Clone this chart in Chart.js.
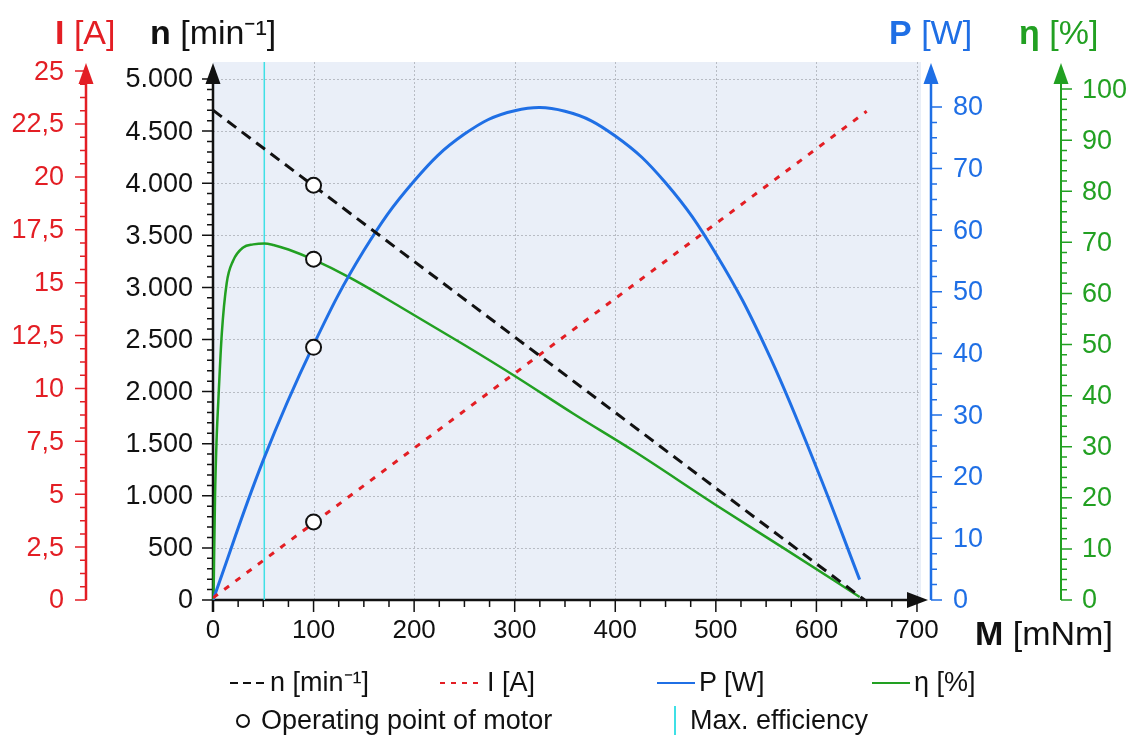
<!DOCTYPE html>
<html>
<head>
<meta charset="utf-8">
<script src="https://cdn.jsdelivr.net/npm/chart.js@4.4.1/dist/chart.umd.min.js"></script>
<style>
  body { margin: 0; background: #fff; font-family: "Liberation Sans", Arial, sans-serif; }
  #wrap { position: relative; width: 1128px; height: 735px; overflow: hidden; }
  #chart { position: absolute; left: 0; top: 0; }
  .t { position: absolute; font-size: 34px; line-height: 1; white-space: nowrap; }
  .lg { position: absolute; font-size: 27px; line-height: 1; white-space: nowrap; display: flex; align-items: center; color: #111; }
  .lg svg { margin-right: 4px; }
</style>
</head>
<body>
<div id="wrap">
  <canvas id="chart" width="1128" height="735"></canvas>

  <div class="t" style="left:55px;top:15px;color:#e31e24"><b>I</b> [A]</div>
  <div class="t" style="left:150px;top:15px;color:#111"><b>n</b> [min⁻¹]</div>
  <div class="t" style="left:889px;top:15px;color:#1f6fe5"><b>P</b> [W]</div>
  <div class="t" style="left:1019px;top:15px;color:#22a022"><b>η</b> [%]</div>
  <div class="t" style="left:975px;top:616px;color:#111"><b>M</b> [mNm]</div>

  <div class="lg" style="left:230px;top:669px"><svg width="36" height="6"><line x1="0" y1="3" x2="36" y2="3" stroke="#111" stroke-width="2" stroke-dasharray="8,5"/></svg>n [min⁻¹]</div>
  <div class="lg" style="left:440px;top:669px"><svg width="43" height="6"><line x1="0" y1="3" x2="43" y2="3" stroke="#e31e24" stroke-width="2" stroke-dasharray="5,6"/></svg>I [A]</div>
  <div class="lg" style="left:657px;top:669px"><svg width="38" height="6"><line x1="0" y1="3" x2="38" y2="3" stroke="#1f6fe5" stroke-width="2"/></svg>P [W]</div>
  <div class="lg" style="left:872px;top:669px"><svg width="38" height="6"><line x1="0" y1="3" x2="38" y2="3" stroke="#22a022" stroke-width="2"/></svg>η [%]</div>
  <div class="lg" style="left:235px;top:707px"><svg width="16" height="16" style="margin-right:10px"><circle cx="8" cy="8" r="6" fill="#fff" stroke="#111" stroke-width="2"/></svg>Operating point of motor</div>
  <div style="position:absolute;left:674px;top:706px;width:2px;height:29px;background:#3fe0e6"></div>
  <div class="lg" style="left:690px;top:707px">Max. efficiency</div>
</div>

<script>
// Kennlinien
const speedM = [0, 648];
const speedN = [4700, 0];

const currentM = [0, 650];
const currentI = [0.1, 23.1];

const powerM = [0, 50, 100, 150, 200, 250, 300, 350, 400, 450, 500, 550, 600, 643];
const powerP = [0, 22.7, 41.4, 56.7, 68.0, 75.6, 79.4, 79.3, 75.3, 67.7, 56.2, 40.8, 21.5, 3.3];

const effM = [0.5, 2, 3.5, 5.3, 8.7, 13.6, 20, 30, 40, 51, 60, 75, 100, 137, 186, 250, 302, 358, 418, 500, 567, 643];
const effE = [0, 20, 31, 39, 52, 62, 66.4, 69, 69.6, 69.8, 69.5, 68.6, 66.6, 63, 57.4, 49.9, 43.6, 36.5, 29.2, 18.6, 10.2, 0.6];

// Betriebspunkt + max. Wirkungsgrad
const opM = 100;
const opN = 3980;
const opI = 3.69;
const opP = 41;
const opE = 66.7;
const maxEffM = 51;

// tick labels
const xTicks = [0, 100, 200, 300, 400, 500, 600, 700];
const nTicks = [0, 500, 1000, 1500, 2000, 2500, 3000, 3500, 4000, 4500, 5000];
const iTicks = [0, 2.5, 5, 7.5, 10, 12.5, 15, 17.5, 20, 22.5, 25];
const pTicks = [0, 10, 20, 30, 40, 50, 60, 70, 80];
const eTicks = [0, 10, 20, 30, 40, 50, 60, 70, 80, 90, 100];

// axis ranges (top of plot area is a bit above the last tick)
const xMax = 704;
const nMax = 5163;
const iMax = 25.43;
const pMax = 87.3;
const eMax = 105.3;

const RED = '#e31e24', BLUE = '#1f6fe5', GREEN = '#22a022', CYAN = '#3fe0e6', BLACK = '#111';
const FONT = '"Liberation Sans", Arial, sans-serif';

const nFmt = v => v >= 1000 ? Math.floor(v / 1000) + '.' + String(v % 1000).padStart(3, '0') : String(v);
const iFmt = v => String(v).replace('.', ',');

const xy = (xs, ys) => xs.map((x, i) => ({ x: x, y: ys[i] }));

const marker = (axis, y) => ({
    data: [{ x: opM, y: y }],
    yAxisID: axis,
    showLine: false,
    pointRadius: 7.5,
    pointBackgroundColor: '#fff',
    pointBorderColor: BLACK,
    pointBorderWidth: 2
});

// 🔹 Achsen, Gitter, Pfeile
const axesPlugin = {
    id: 'motorAxes',
    beforeDatasetsDraw(chart) {
        const { ctx, chartArea: a, scales } = chart;
        ctx.save();
        ctx.fillStyle = '#eaeff8';
        ctx.fillRect(a.left, a.top, a.right - a.left, a.bottom - a.top);

        ctx.strokeStyle = '#b8bcc4';
        ctx.lineWidth = 1;
        ctx.setLineDash([2, 2]);
        ctx.beginPath();
        xTicks.forEach(v => {
            if (v === 0) return;
            const x = Math.round(scales.x.getPixelForValue(v)) + 0.5;
            ctx.moveTo(x, a.top); ctx.lineTo(x, a.bottom);
        });
        nTicks.forEach(v => {
            if (v === 0) return;
            const y = Math.round(scales.yN.getPixelForValue(v)) + 0.5;
            ctx.moveTo(a.left, y); ctx.lineTo(a.right, y);
        });
        ctx.stroke();
        ctx.setLineDash([]);

        const vAxes = [
            { id: 'yI', x: 86, color: RED, side: -1, ticks: iTicks, minor: 0.625, fmt: iFmt, lx: 64, align: 'right', w: 2.5 },
            { id: 'yN', x: 213, color: BLACK, side: -1, ticks: nTicks, minor: 100, fmt: nFmt, lx: 193, align: 'right', w: 2.5 },
            { id: 'yP', x: 931, color: BLUE, side: 1, ticks: pTicks, minor: 2.5, fmt: String, lx: 953, align: 'left', w: 2.5 },
            { id: 'yE', x: 1061, color: GREEN, side: 1, ticks: eTicks, minor: 2, fmt: String, lx: 1082, align: 'left', w: 2 }
        ];

        ctx.font = '27px ' + FONT;
        ctx.textBaseline = 'middle';
        vAxes.forEach(ax => {
            const s = scales[ax.id];
            ctx.strokeStyle = ax.color;
            ctx.fillStyle = ax.color;
            ctx.lineWidth = ax.w;
            ctx.beginPath();
            ctx.moveTo(ax.x, a.bottom + (ax.id === 'yN' ? 12 : 0));
            ctx.lineTo(ax.x, 78);
            ctx.stroke();

            ctx.lineWidth = 1.5;
            ctx.beginPath();
            const top = ax.ticks[ax.ticks.length - 1];
            for (let v = 0; v <= top + 1e-6; v += ax.minor) {
                const isMajor = ax.ticks.some(t => Math.abs(t - v) < 1e-6);
                if (isMajor) continue;
                const y = s.getPixelForValue(v);
                ctx.moveTo(ax.x, y); ctx.lineTo(ax.x + ax.side * 6, y);
            }
            ax.ticks.forEach(v => {
                const y = s.getPixelForValue(v);
                ctx.moveTo(ax.x, y); ctx.lineTo(ax.x + ax.side * 11, y);
            });
            ctx.stroke();

            ctx.textAlign = ax.align;
            ax.ticks.forEach(v => ctx.fillText(ax.fmt(v), ax.lx, s.getPixelForValue(v) + 1));

            // Pfeil
            ctx.beginPath();
            ctx.moveTo(ax.x, 63);
            ctx.lineTo(ax.x - 7.5, 84);
            ctx.lineTo(ax.x + 7.5, 84);
            ctx.closePath();
            ctx.fill();
        });

        // x-Achse
        const sx = scales.x;
        ctx.strokeStyle = BLACK;
        ctx.fillStyle = BLACK;
        ctx.lineWidth = 2.5;
        ctx.beginPath();
        ctx.moveTo(a.left, a.bottom); ctx.lineTo(912, a.bottom);
        ctx.stroke();
        ctx.lineWidth = 1.5;
        ctx.beginPath();
        for (let v = 0; v <= 700; v += 25) {
            const x = sx.getPixelForValue(v);
            const len = v % 100 === 0 ? 12 : 7;
            ctx.moveTo(x, a.bottom); ctx.lineTo(x, a.bottom + len);
        }
        ctx.stroke();
        ctx.beginPath();
        ctx.moveTo(928, a.bottom);
        ctx.lineTo(907, a.bottom - 8);
        ctx.lineTo(907, a.bottom + 8);
        ctx.closePath();
        ctx.fill();

        ctx.font = '26px ' + FONT;
        ctx.textAlign = 'center';
        xTicks.forEach(v => ctx.fillText(String(v), sx.getPixelForValue(v), 631));
        ctx.restore();
    }
};

const ctx = document.getElementById('chart').getContext('2d');
new Chart(ctx, {
    type: 'scatter',
    data: {
        datasets: [
            marker('yN', opN),
            marker('yI', opI),
            marker('yP', opP),
            marker('yE', opE),
            {
                label: 'n [min⁻¹]',
                data: xy(speedM, speedN),
                yAxisID: 'yN',
                showLine: true,
                borderColor: BLACK,
                borderWidth: 3,
                borderDash: [11, 7],
                pointRadius: 0
            },
            {
                label: 'I [A]',
                data: xy(currentM, currentI),
                yAxisID: 'yI',
                showLine: true,
                borderColor: RED,
                borderWidth: 3,
                borderDash: [6, 8],
                pointRadius: 0
            },
            {
                label: 'P [W]',
                data: xy(powerM, powerP),
                yAxisID: 'yP',
                showLine: true,
                borderColor: BLUE,
                borderWidth: 3,
                tension: 0.4,
                pointRadius: 0
            },
            {
                label: 'η [%]',
                data: xy(effM, effE),
                yAxisID: 'yE',
                showLine: true,
                borderColor: GREEN,
                borderWidth: 2.5,
                cubicInterpolationMode: 'monotone',
                pointRadius: 0,
                clip: 4
            },
            {
                label: 'Max. efficiency',
                data: [{ x: maxEffM, y: 0 }, { x: maxEffM, y: nMax }],
                yAxisID: 'yN',
                showLine: true,
                borderColor: CYAN,
                borderWidth: 1.5,
                pointRadius: 0
            }
        ]
    },
    options: {
        responsive: false,
        animation: false,
        layout: { padding: { left: 213, right: 207, top: 62, bottom: 135 } },
        plugins: { legend: { display: false }, tooltip: { enabled: false } },
        scales: {
            x: { type: 'linear', min: 0, max: xMax, display: false },
            yN: { type: 'linear', min: 0, max: nMax, display: false },
            yI: { type: 'linear', min: 0, max: iMax, display: false },
            yP: { type: 'linear', min: 0, max: pMax, display: false },
            yE: { type: 'linear', min: 0, max: eMax, display: false }
        }
    },
    plugins: [axesPlugin]
});
</script>
</body>
</html>
